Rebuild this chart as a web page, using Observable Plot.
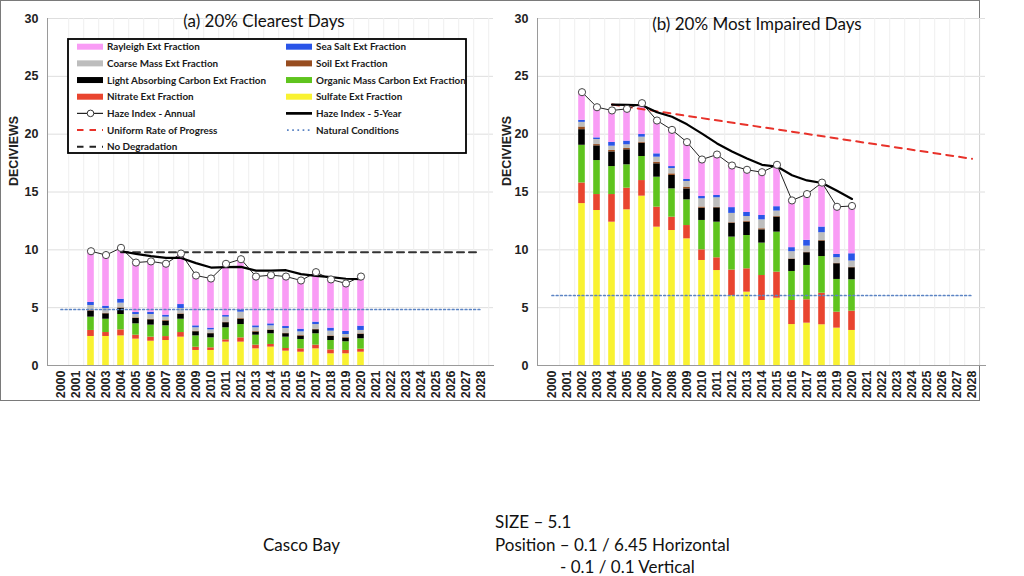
<!DOCTYPE html>
<html><head><meta charset="utf-8">
<script src="https://cdn.jsdelivr.net/npm/d3@7"></script>
<script src="https://cdn.jsdelivr.net/npm/@observablehq/plot@0.6"></script>
<style>
body{margin:0;background:#fff;}
#wrap{position:relative;width:1024px;height:576px;overflow:hidden;font-family:Lato,"Open Sans",sans-serif;background:#fff;}
.abs{position:absolute;}
#frame{left:0;top:0;width:978px;height:399px;border:1.5px solid #7a7a7a;box-sizing:content-box;}
.note{position:absolute;font-family:Lato,sans-serif;font-size:17px;color:#111;white-space:nowrap;line-height:1;}
</style></head><body><div id="wrap"><div id="frame" class="abs"></div></div>
<script>
// ---------- categories / tick labels ----------
const axisYears = [2000,2001,2002,2003,2004,2005,2006,2007,2008,2009,2010,2011,2012,2013,2014,2015,2016,2017,2018,2019,2020,2021,2022,2023,2024,2025,2026,2027,2028];
const dataYears = [2002,2003,2004,2005,2006,2007,2008,2009,2010,2011,2012,2013,2014,2015,2016,2017,2018,2019,2020];
const fiveYearYears = [2004,2005,2006,2007,2008,2009,2010,2011,2012,2013,2014,2015,2016,2017,2018,2019,2020];
const yTicks = [0,5,10,15,20,25,30];
const componentNames = ["Sulfate Ext Fraction","Nitrate Ext Fraction","Organic Mass Carbon Ext Fraction","Light Absorbing Carbon Ext Fraction","Soil Ext Fraction","Coarse Mass Ext Fraction","Sea Salt Ext Fraction","Rayleigh Ext Fraction"];
const componentColors = ["#f9f231","#e9452f","#5fc41e","#000000","#974d20","#bdbdbd","#2a55e8","#f99cf5"];

// ---------- (a) 20% clearest days ----------
const sulfateA  = [2.51,2.51,2.56,2.28,2.10,2.16,2.45,1.30,1.30,2.02,2.02,1.44,1.59,1.24,1.15,1.44,1.01,1.01,1.15];
const nitrateA  = [0.52,0.34,0.52,0.34,0.35,0.34,0.40,0.28,0.23,0.20,0.37,0.32,0.23,0.23,0.29,0.32,0.34,0.29,0.26];
const omcA      = [1.15,1.15,1.33,0.98,1.04,0.93,1.15,0.98,0.86,1.04,1.15,0.86,0.92,0.98,0.81,0.98,0.81,0.75,0.90];
const lacA      = [0.53,0.47,0.53,0.47,0.46,0.41,0.42,0.36,0.36,0.44,0.47,0.27,0.29,0.30,0.29,0.35,0.35,0.32,0.38];
const soilA     = [0.05,0.05,0.05,0.05,0.05,0.05,0.05,0.05,0.05,0.05,0.05,0.05,0.05,0.05,0.05,0.05,0.05,0.05,0.05];
const coarseA   = [0.43,0.41,0.40,0.29,0.41,0.29,0.46,0.29,0.28,0.43,0.55,0.32,0.35,0.40,0.32,0.40,0.41,0.26,0.29];
const seaSaltA  = [0.26,0.20,0.34,0.17,0.20,0.17,0.34,0.17,0.15,0.14,0.20,0.17,0.17,0.17,0.23,0.21,0.26,0.26,0.37];
const rayleighA = [4.43,4.42,4.44,4.32,4.39,4.45,4.41,4.35,4.29,4.47,4.38,4.26,4.21,4.32,4.21,4.32,4.21,4.15,4.29];
const annualA   = [9.88,9.55,10.17,8.90,9.00,8.80,9.68,7.78,7.52,8.79,9.19,7.69,7.81,7.69,7.35,8.07,7.44,7.09,7.69];
const fiveYearA = [9.88,9.65,9.45,9.30,9.30,8.85,8.47,8.50,8.53,8.20,8.20,8.24,7.90,7.75,7.64,7.50,7.46];
const naturalA  = {years:[2000,2028], values:[4.84,4.84]};
const noDegradationA = {years:[2004,2028], values:[9.80,9.80]};

// ---------- (b) 20% most impaired days ----------
const sulfateB  = [14.00,13.40,12.39,13.46,14.64,11.96,11.67,10.95,9.08,8.21,6.05,6.34,5.62,5.82,3.54,3.66,3.52,3.23,3.03];
const nitrateB  = [1.78,1.38,2.39,1.87,1.35,1.73,1.15,1.15,0.92,1.10,2.20,2.02,2.16,2.25,2.08,2.02,2.73,1.38,1.67];
const omcB      = [3.26,2.94,2.42,2.02,2.08,2.59,2.45,2.22,2.54,3.08,2.85,2.88,2.80,3.46,2.51,2.97,3.17,2.83,2.71];
const lacB      = [1.35,1.27,1.27,1.30,1.15,1.16,1.16,0.95,1.06,1.24,1.20,1.15,1.15,1.30,1.05,1.10,1.34,1.36,1.04];
const soilB     = [0.23,0.11,0.12,0.11,0.09,0.14,0.14,0.15,0.10,0.05,0.05,0.09,0.09,0.05,0.04,0.05,0.05,0.05,0.05];
const coarseB   = [0.40,0.44,0.37,0.32,0.43,0.43,0.46,0.49,0.71,0.82,0.80,0.40,0.77,0.47,0.62,0.52,0.67,0.47,0.53];
const seaSaltB  = [0.18,0.14,0.32,0.32,0.23,0.29,0.17,0.17,0.20,0.20,0.50,0.35,0.38,0.38,0.35,0.50,0.49,0.28,0.63];
const rayleighB = [2.45,2.65,2.77,2.79,2.71,2.88,3.17,3.23,3.20,3.54,3.66,3.69,3.74,3.60,4.08,4.00,3.84,4.12,4.13];
const annualB   = [23.63,22.33,22.05,22.19,22.68,21.18,20.37,19.31,17.81,18.24,17.29,16.92,16.71,17.35,14.27,14.82,15.81,13.72,13.79];
const fiveYearB = [22.56,22.54,22.50,21.90,21.50,20.85,20.05,19.20,18.50,17.90,17.35,17.20,16.45,16.00,15.78,15.10,14.40];
const naturalB  = {years:[2000,2028], values:[6.05,6.05]};
const urpB      = {years:[2004,2028], values:[22.56,17.87]};

const FONT = "'Liberation Sans', Arial, sans-serif";

function toLong(series) {
  const out = [];
  series.forEach((vals, k) => dataYears.forEach((yr, j) => out.push({year: yr, comp: componentNames[k], value: vals[j]})));
  return out;
}
function pairs(years, values) { return years.map((y, i) => ({year: y, v: values[i]})); }

function panel({width, ml, mr, series, annual, five, natural, noDeg, urp, title, titleDx, titleDy, labelDx}) {
  const H = 403, mt = 18, mb = 38;
  const step = (width - ml - mr) / axisYears.length;
  const marks = [
    Plot.ruleY(yTicks.slice(1), {y: d => d, stroke: "#dedede", strokeWidth: 1}),
    Plot.ruleX(axisYears, {x: d => d, dx: step / 2, stroke: "#efefef", strokeWidth: 1}),
    Plot.barY(toLong(series), {x: "year", y: "value", fill: "comp", order: componentNames, insetLeft: 4.2, insetRight: 4.2}),
    Plot.line(pairs(natural.years, natural.values), {x: "year", y: "v", stroke: "#5b84c4", strokeWidth: 1.7, strokeDasharray: "1.7,2.6"})
  ];
  if (noDeg) marks.push(Plot.line(pairs(noDeg.years, noDeg.values), {x: "year", y: "v", stroke: "#333", strokeWidth: 2, strokeDasharray: "7,5"}));
  if (urp) marks.push(Plot.line(pairs(urp.years, urp.values), {x: "year", y: "v", stroke: "#e8322a", strokeWidth: 2, strokeDasharray: "7,6"}));
  const ann = pairs(dataYears, annual);
  marks.push(
    Plot.line(ann, {x: "year", y: "v", stroke: "#222", strokeWidth: 1}),
    Plot.line(pairs(fiveYearYears, five), {x: "year", y: "v", stroke: "#000", strokeWidth: 2.2}),
    Plot.dot(ann, {x: "year", y: "v", r: 3.6, fill: "white", stroke: "#444", strokeWidth: 1}),
    Plot.frame({anchor: "left", stroke: "#9a9a9a"}),
    Plot.frame({anchor: "bottom", stroke: "#9a9a9a"}),
    Plot.axisY(yTicks, {tickSize: 0, tickPadding: 9, fontSize: 12.5, fontWeight: "bold", fill: "#222", label: null}),
    Plot.axisX({tickSize: 0, tickPadding: 5, tickRotate: -90, fontSize: 12.5, fontWeight: "bold", fill: "#222", label: null, tickFormat: d => String(d)}),
    Plot.text([title], {frameAnchor: "top", dx: titleDx, dy: titleDy, lineAnchor: "middle", fontSize: 17, fontFamily: "Lato", fill: "#111"}),
    Plot.text(["DECIVIEWS"], {frameAnchor: "left", dx: labelDx, dy: -6, rotate: -90, fontSize: 12.5, fontWeight: "bold", fill: "#222"})
  );
  return Plot.plot({
    width, height: H, marginLeft: ml, marginRight: mr, marginTop: mt, marginBottom: mb,
    style: {fontFamily: FONT, background: "transparent", overflow: "visible"},
    x: {type: "band", domain: axisYears, padding: 0, align: 0.5},
    y: {domain: [0, 30]},
    color: {domain: componentNames, range: componentColors},
    marks
  });
}

const wrap = document.getElementById("wrap");
const left = panel({width: 500, ml: 47, mr: 7,
  series: [sulfateA, nitrateA, omcA, lacA, soilA, coarseA, seaSaltA, rayleighA],
  annual: annualA, five: fiveYearA, natural: naturalA, noDeg: noDegradationA,
  title: "(a) 20% Clearest Days", titleDx: -6.5, titleDy: 3, labelDx: -34});
left.style.position = "absolute"; left.style.left = "0px"; left.style.top = "0px";
wrap.appendChild(left);

const right = panel({width: 490, ml: 37, mr: 5,
  series: [sulfateB, nitrateB, omcB, lacB, soilB, coarseB, seaSaltB, rayleighB],
  annual: annualB, five: fiveYearB, natural: naturalB, urp: urpB,
  title: "(b) 20% Most Impaired Days", titleDx: -4.5, titleDy: 6, labelDx: -31});
right.style.position = "absolute"; right.style.left = "500px"; right.style.top = "0px";
wrap.appendChild(right);

// ---------- legend (overlay on panel a) ----------
const legendItems = [
  {label: "Rayleigh Ext Fraction", kind: "swatch", color: "#f99cf5", col: 0, row: 0},
  {label: "Sea Salt Ext Fraction", kind: "swatch", color: "#2a55e8", col: 1, row: 0},
  {label: "Coarse Mass Ext Fraction", kind: "swatch", color: "#bdbdbd", col: 0, row: 1},
  {label: "Soil Ext Fraction", kind: "swatch", color: "#974d20", col: 1, row: 1},
  {label: "Light Absorbing Carbon Ext Fraction", kind: "swatch", color: "#000000", col: 0, row: 2},
  {label: "Organic Mass Carbon Ext Fraction", kind: "swatch", color: "#5fc41e", col: 1, row: 2},
  {label: "Nitrate Ext Fraction", kind: "swatch", color: "#e9452f", col: 0, row: 3},
  {label: "Sulfate Ext Fraction", kind: "swatch", color: "#f9f231", col: 1, row: 3},
  {label: "Haze Index - Annual", kind: "annual", color: "#222", col: 0, row: 4},
  {label: "Haze Index - 5-Year", kind: "five", color: "#000", col: 1, row: 4},
  {label: "Uniform Rate of Progress", kind: "dash", color: "#e8322a", col: 0, row: 5},
  {label: "Natural Conditions", kind: "dot", color: "#5b84c4", col: 1, row: 5},
  {label: "No Degradation", kind: "dash", color: "#222", col: 0, row: 6}
];
const lsvg = d3.select(wrap).append("svg").attr("class", "abs")
  .attr("width", 1024).attr("height", 576).style("left", "0px").style("top", "0px").style("pointer-events", "none");
lsvg.append("rect").attr("x", 68).attr("y", 39).attr("width", 398).attr("height", 114)
  .attr("fill", "white").attr("stroke", "#000").attr("stroke-width", 1.8);
const colX = [77, 286], textX = [107, 316], row0 = 46.7, rowStep = 16.67, sw = 26;
legendItems.forEach(it => {
  const x = colX[it.col], y = row0 + it.row * rowStep;
  const g = lsvg.append("g");
  if (it.kind === "swatch") {
    g.append("rect").attr("x", x).attr("y", y - 3).attr("width", sw).attr("height", 6).attr("fill", it.color);
  } else if (it.kind === "annual") {
    g.append("line").attr("x1", x).attr("x2", x + sw).attr("y1", y).attr("y2", y).attr("stroke", it.color).attr("stroke-width", 1.2);
    g.append("circle").attr("cx", x + 13.5).attr("cy", y).attr("r", 3.3).attr("fill", "white").attr("stroke", "#333");
  } else if (it.kind === "five") {
    g.append("line").attr("x1", x).attr("x2", x + sw).attr("y1", y).attr("y2", y).attr("stroke", it.color).attr("stroke-width", 2.7);
  } else if (it.kind === "dash") {
    g.append("line").attr("x1", x).attr("x2", x + sw).attr("y1", y).attr("y2", y).attr("stroke", it.color).attr("stroke-width", 2).attr("stroke-dasharray", "6.5,6");
  } else if (it.kind === "dot") {
    g.append("line").attr("x1", x + 1).attr("x2", x + sw).attr("y1", y).attr("y2", y).attr("stroke", it.color).attr("stroke-width", 1.7).attr("stroke-dasharray", "1.7,3.5");
  }
  g.append("text").attr("x", textX[it.col]).attr("y", y).attr("dy", "0.35em")
    .attr("font-family", "Lato, sans-serif").attr("font-weight", "bold").attr("font-size", 9.9)
    .attr("fill", "#1a1a1a").text(it.label);
});

// ---------- slide notes ----------
const notes = [
  {text: "Casco Bay", x: 263, y: 536},
  {text: "SIZE \u2013 5.1", x: 495, y: 513},
  {text: "Position \u2013 0.1 / 6.45 Horizontal", x: 495, y: 536},
  {text: "- 0.1 / 0.1 Vertical", x: 560, y: 558}
];
notes.forEach(n => {
  const d = document.createElement("div");
  d.className = "note"; d.textContent = n.text;
  d.style.left = n.x + "px"; d.style.top = n.y + "px";
  wrap.appendChild(d);
});
</script></body></html>
